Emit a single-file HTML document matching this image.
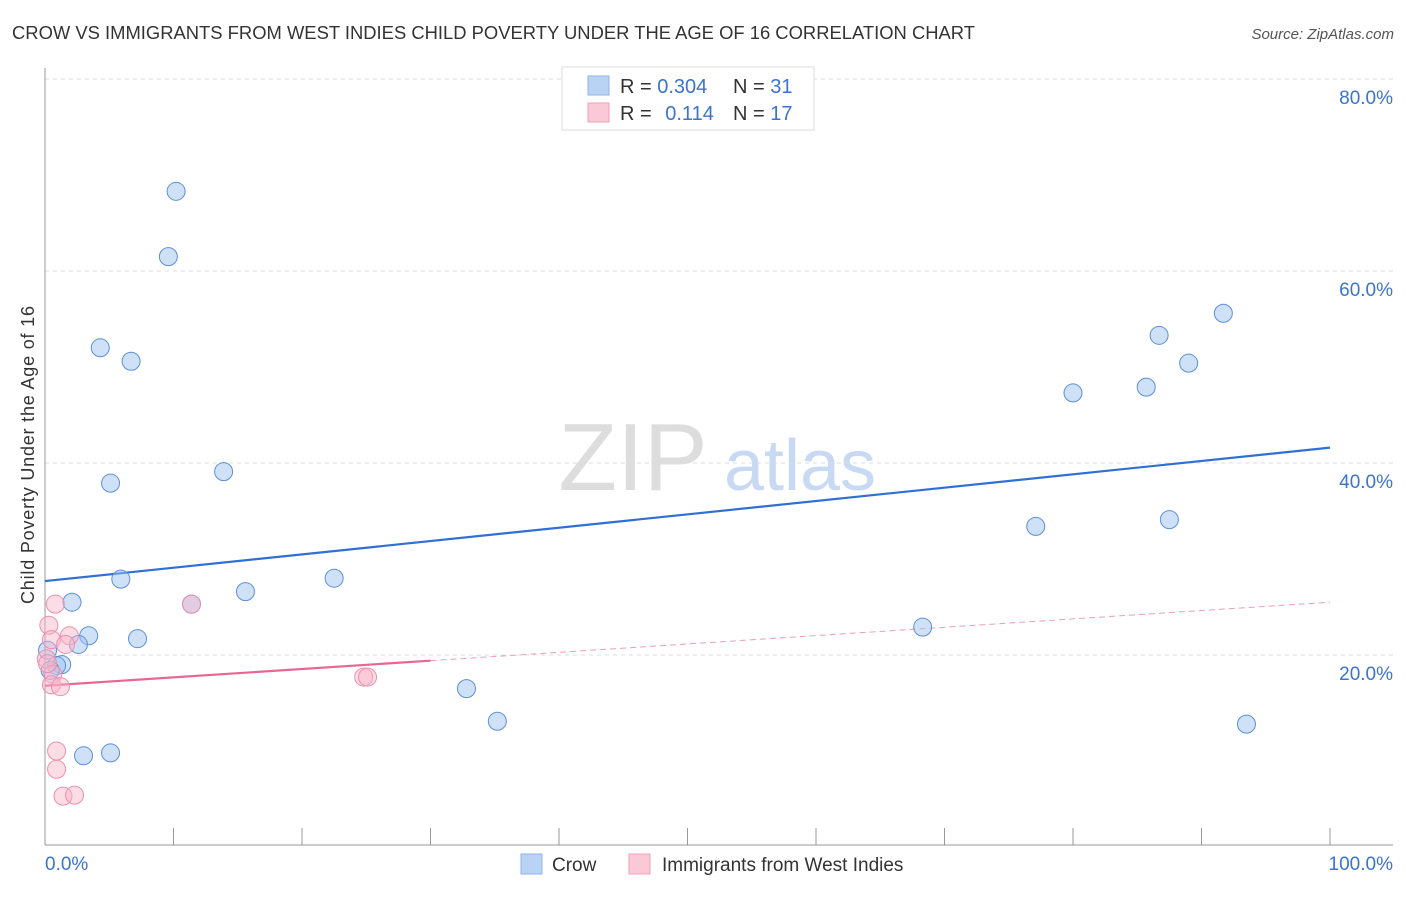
<!DOCTYPE html>
<html><head><meta charset="utf-8"><style>
body{margin:0;background:#fff;font-family:"Liberation Sans",sans-serif;}
svg text{font-family:"Liberation Sans",sans-serif;}
</style></head><body>
<svg id="chart" width="1406" height="892" viewBox="0 0 1406 892">
<text x="12" y="39" font-size="18" fill="#333" textLength="963" lengthAdjust="spacingAndGlyphs">CROW VS IMMIGRANTS FROM WEST INDIES CHILD POVERTY UNDER THE AGE OF 16 CORRELATION CHART</text>
<text x="1394" y="39" font-size="15" fill="#555" font-style="italic" text-anchor="end">Source: ZipAtlas.com</text>
<g>
<text x="633" y="490" font-size="96" fill="#ddd" font-family="Liberation Serif" text-anchor="middle">ZIP</text>
<text x="800" y="490" font-size="72" fill="#c8daf3" text-anchor="middle">atlas</text>
</g>
<g id="grid"></g>
<g id="axes"></g>
<g id="lines"></g>
<g id="points"></g>
<text transform="translate(34,455) rotate(-90)" font-size="18" fill="#333" text-anchor="middle" textLength="298">Child Poverty Under the Age of 16</text>
<g>
<rect x="562" y="67" width="252" height="63" fill="#fff" stroke="#ddd"/>
<rect x="588" y="76" width="21" height="19" fill="#b9d3f5" stroke="#8fb3e6"/>
<text x="620" y="93" font-size="20" fill="#333">R = <tspan fill="#3a74d0">0.304</tspan></text>
<text x="733" y="93" font-size="20" fill="#333">N = <tspan fill="#3a74d0">31</tspan></text>
<rect x="588" y="103" width="21" height="19" fill="#fac8d6" stroke="#f0a0b8"/>
<text x="620" y="120" font-size="20" fill="#333">R = <tspan fill="#3a74d0" dx="8">0.114</tspan></text>
<text x="733" y="120" font-size="20" fill="#333">N = <tspan fill="#3a74d0">17</tspan></text>
</g>
<g>
<rect x="521" y="854" width="21" height="20" fill="#b9d3f5" stroke="#8fb3e6"/>
<text x="552" y="871" font-size="19" fill="#333">Crow</text>
<rect x="629" y="854" width="21" height="20" fill="#fac8d6" stroke="#f0a0b8"/>
<text x="662" y="871" font-size="19" fill="#333">Immigrants from West Indies</text>
</g>
</svg>
<script>
const yTicks=[20,40,60,80];
const yTickLabels=["20.0%","40.0%","60.0%","80.0%"];
const xTickCount=[0,10,20,30,40,50,60,70,80,90,100];
const xEndLabels=["0.0%","100.0%"];
const crowX=[10.2,9.6,4.3,6.7,5.1,13.9,5.9,2.1,3.4,7.2,2.6,15.6,22.5,11.4,1.3,0.9,0.4,3.0,5.1,32.8,35.2,68.3,77.1,80.0,85.7,86.7,89.0,91.7,87.5,93.5,0.2];
const crowY=[68.3,61.5,52.0,50.6,37.9,39.1,27.9,25.5,22.0,21.7,21.1,26.6,28.0,25.3,19.0,18.9,18.4,9.5,9.8,16.5,13.1,22.9,33.4,47.3,47.9,53.3,50.4,55.6,34.1,12.8,20.5];
const wiX=[0.8,0.3,0.5,1.9,1.6,0.1,0.6,0.5,1.2,0.9,0.9,1.4,2.3,11.4,24.8,25.1,0.2];
const wiY=[25.3,23.1,21.6,22.0,21.1,19.6,18.0,16.9,16.7,10.0,8.1,5.3,5.4,25.3,17.7,17.7,19.1];
const crowTrend=[27.7,41.6];
const wiTrend=[16.8,25.5];
const wiSolidEnd=30;
const NS="http://www.w3.org/2000/svg";
const sx=v=>45+v*12.85, sy=v=>847-v*9.6;
function mk(tag,attrs,parent){const e=document.createElementNS(NS,tag);for(const k in attrs)e.setAttribute(k,attrs[k]);document.getElementById(parent).appendChild(e);return e;}
yTicks.forEach((t,i)=>{
 const g=mk('line',{x1:45,x2:1393,y1:sy(t),y2:sy(t),stroke:'#ddd','stroke-dasharray':'4,4'},'grid');
 
 
 const l=mk('text',{x:1393,y:sy(t)+25,'font-size':19,fill:'#3a74d0','text-anchor':'end'},'axes');
 l.textContent=yTickLabels[i];
 
 
});
const ax=mk('line',{x1:45,x2:45,y1:68,y2:845,stroke:'#999'},'axes');


const bx=mk('line',{x1:45,x2:1393,y1:845,y2:845,stroke:'#999'},'axes');


xTickCount.forEach(t=>{
 const k=mk('line',{x1:sx(t),x2:sx(t),y1:828,y2:845,stroke:'#999'},'axes');
 
 
});
const xl0=mk('text',{x:45,y:870,'font-size':19,fill:'#3a74d0'},'axes');xl0.textContent=xEndLabels[0];


const xl1=mk('text',{x:1393,y:870,'font-size':19,fill:'#3a74d0','text-anchor':'end'},'axes');xl1.textContent=xEndLabels[1];


const ct=mk('line',{x1:sx(0),y1:sy(crowTrend[0]),x2:sx(100),y2:sy(crowTrend[1]),stroke:'#2f6fd6','stroke-width':2.2},'lines');


const wAt=x=>wiTrend[0]+(wiTrend[1]-wiTrend[0])*x/100;
const wt=mk('line',{x1:sx(0),y1:sy(wAt(0)),x2:sx(wiSolidEnd),y2:sy(wAt(wiSolidEnd)),stroke:'#e8668f','stroke-width':2.2},'lines');


const wd=mk('line',{x1:sx(wiSolidEnd),y1:sy(wAt(wiSolidEnd)),x2:sx(100),y2:sy(wAt(100)),stroke:'#e8a0b5','stroke-width':1,'stroke-dasharray':'6,4'},'lines');


crowX.forEach((x,i)=>{
 const c=mk('circle',{cx:sx(x),cy:sy(crowY[i]),r:9,fill:'rgba(160,195,240,0.5)',stroke:'#5b8fdc','stroke-width':1},'points');
 
 
});
wiX.forEach((x,i)=>{
 const c=mk('circle',{cx:sx(x),cy:sy(wiY[i]),r:9,fill:'rgba(248,180,200,0.45)',stroke:'#ec90ad','stroke-width':1},'points');
 
 
});
</script>
</body></html>
